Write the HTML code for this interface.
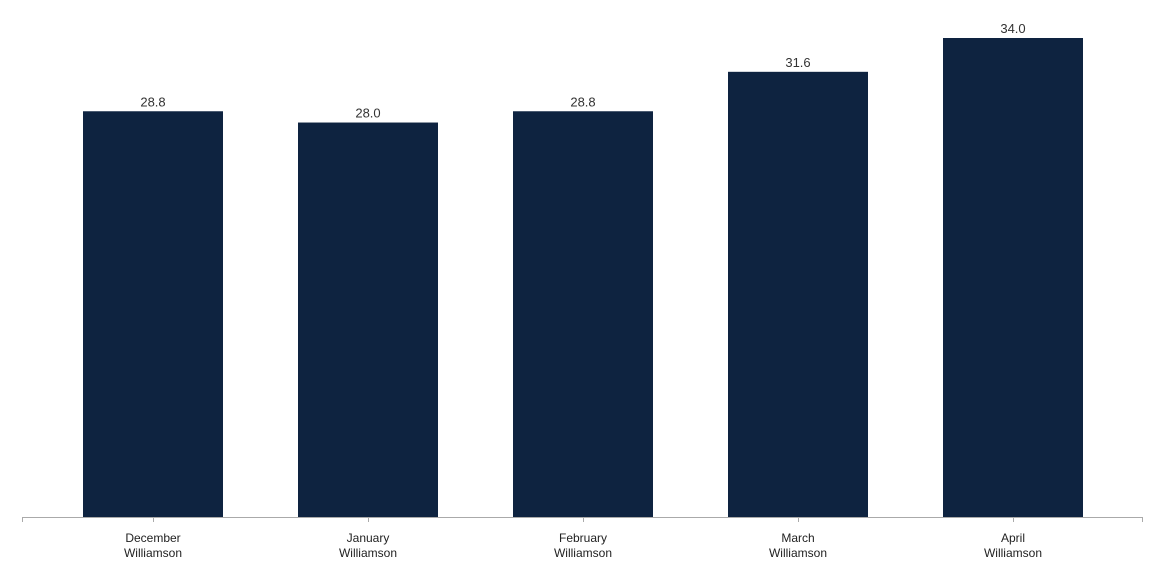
<!DOCTYPE html>
<html><head><meta charset="utf-8"><style>
html,body{margin:0;padding:0;background:#fff;}
svg{display:block;font-family:"Liberation Sans",sans-serif;}
</style></head><body>
<svg id="chart" width="1154" height="565"></svg>
<script>
const categories = ["December", "January", "February", "March", "April"];
const subLabels = ["Williamson", "Williamson", "Williamson", "Williamson", "Williamson"];
const values = [28.8, 28.0, 28.8, 31.6, 34.0];

const NS = "http://www.w3.org/2000/svg";
const svg = document.getElementById("chart");
const x0 = 22, x1 = 1142, baseY = 517, pxPerUnit = 479 / 34;
const firstCenter = 153, step = 215;
const barW = 140;
const xCenter = i => firstCenter + step * i;
const yScale = v => baseY - v * pxPerUnit;

function mk(tag, attrs) { const e = document.createElementNS(NS, tag); for (const k in attrs) e.setAttribute(k, attrs[k]); svg.appendChild(e); return e; }

categories.forEach((c, i) => {
  const cx = xCenter(i), y = yScale(values[i]);
  const r = mk("rect", {x: cx - barW / 2, y: y, width: barW, height: baseY - y, fill: "#0e2340"});
  
  
  const t = mk("text", {x: cx, y: y - 5, "text-anchor": "middle", "font-size": "13", fill: "#333"});
  t.textContent = values[i].toFixed(1);
  
  
  const tk = mk("line", {x1: cx + 0.5, x2: cx + 0.5, y1: baseY, y2: baseY + 5, stroke: "#aaa", "stroke-width": 1});
  
  
  const l1 = mk("text", {x: cx, y: 542, "text-anchor": "middle", "font-size": "12", fill: "#222"});
  l1.textContent = c;
  
  
  const l2 = mk("text", {x: cx, y: 557, "text-anchor": "middle", "font-size": "12", fill: "#222"});
  l2.textContent = subLabels[i];
  
  
});
const ax = mk("line", {x1: x0, x2: x1, y1: baseY + 0.5, y2: baseY + 0.5, stroke: "#aaa", "stroke-width": 1});


[x0, x1].forEach(x => {
  const e = mk("line", {x1: x + 0.5, x2: x + 0.5, y1: baseY, y2: baseY + 5, stroke: "#aaa", "stroke-width": 1});
  
  
});
</script>
</body></html>
